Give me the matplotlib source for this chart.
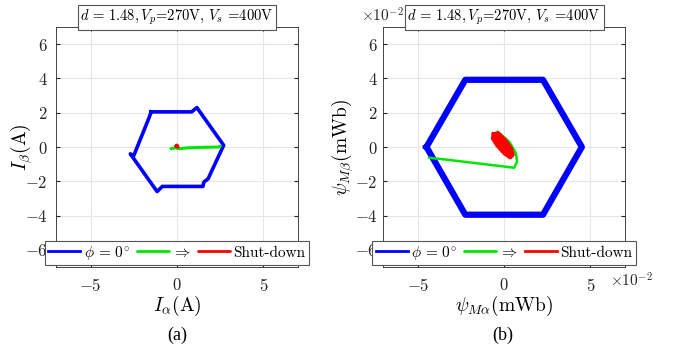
import matplotlib
matplotlib.use("Agg")
import matplotlib.pyplot as plt
import numpy as np

plt.rcParams['font.family'] = ['cmr10']
plt.rcParams['mathtext.fontset'] = 'cm'
plt.rcParams['axes.unicode_minus'] = False
plt.rcParams['axes.formatter.use_mathtext'] = True

# ---- (a) current trajectories (A) ----
cur_blue_x = [-1.5, 0.85, 1.15, 2.7, 1.8, 1.55, 1.5, -0.85, -1.15, -2.7, -2.5, -1.6, -1.5]
cur_blue_y = [2.05, 2.05, 2.3, 0.1, -1.85, -2.05, -2.3, -2.3, -2.6, -0.4, -0.5, 1.75, 2.05]
cur_green_x = [-0.35, -0.1, 0.15, 0.6, 1.5, 2.4, 2.5]
cur_green_y = [-0.1, -0.05, -0.1, -0.05, -0.02, 0.0, 0.05]
cur_red_x = [-0.05, 0.05, 0.0, -0.05]
cur_red_y = [0.05, 0.0, 0.1, 0.05]

# ---- (b) flux trajectories (x1e-2 mWb) ----
flux_blue_x = [-4.5, -2.25, 2.25, 4.5, 2.25, -2.25, -4.5]
flux_blue_y = [0.0, 3.92, 3.92, 0.0, -3.95, -3.95, 0.0]
flux_green_x = [-4.35, -3.4, 0.58, 0.75, 0.68, 0.3, -0.38]
flux_green_y = [-0.63, -0.73, -1.21, -0.85, -0.35, 0.3, 0.9]
flux_red_x = [-0.6, -0.35, 0.05, 0.4, 0.5, 0.35, 0.0, -0.4, -0.65, -0.6]
flux_red_y = [0.75, 0.8, 0.4, -0.1, -0.45, -0.6, -0.35, 0.1, 0.5, 0.75]

yticks = [-6, -4, -2, 0, 2, 4, 6]
xticks = [-5, 0, 5]
labels = [r'$\phi\,=\,0^{\circ}$', r'$\Rightarrow$', 'Shut-down']
title = r'$d\,=\,1.48, V_p$=270V, $V_s$ =400V'

fig = plt.figure(figsize=(6.77, 3.45), dpi=100)
axA = fig.add_axes([56/677, 1-267/345, 242/677, 240/345])
axB = fig.add_axes([383.3/677, 1-267/345, 241.7/677, 240/345])

def style(ax, scale, ypad):
    ax.set_xlim(-7*scale, 7*scale)
    ax.set_ylim(-7*scale, 7*scale)
    ax.set_xticks([t*scale for t in xticks])
    ax.set_yticks([t*scale for t in yticks])
    ax.grid(True, color='#e6e6e6', lw=0.8)
    ax.set_axisbelow(True)
    ax.tick_params(direction='in', length=3, labelsize=12, colors='#262626',
                   top=True, right=True)
    ax.tick_params(axis='x', pad=7)
    ax.tick_params(axis='y', pad=ypad)
    for s in ax.spines.values():
        s.set_color('#262626')
        s.set_linewidth(0.6)

style(axA, 1, 6)
axA.plot(cur_blue_x, cur_blue_y, color='#0000ff', lw=2.6, label=labels[0], solid_joinstyle='round')
axA.plot(cur_green_x, cur_green_y, color='#00e600', lw=2.2, label=labels[1], solid_capstyle='round')
axA.plot(cur_red_x, cur_red_y, color='#ff0000', lw=2.5, label=labels[2], solid_capstyle='round')
axA.set_xlabel(r'$I_{\alpha}$(A)', fontsize=14, labelpad=0)
axA.set_ylabel(r'$I_{\beta}$(A)', fontsize=14)
axA.yaxis.set_label_coords(-0.085, 0.5)

sc = 1e-2
style(axB, sc, 4)
axB.plot(np.array(flux_blue_x)*sc, np.array(flux_blue_y)*sc, color='#0000ff', lw=4.5,
         label=labels[0], solid_joinstyle='round')
axB.plot(np.array(flux_green_x)*sc, np.array(flux_green_y)*sc, color='#00e600', lw=1.8,
         label=labels[1], solid_capstyle='round')
axB.plot(np.array(flux_red_x)*sc, np.array(flux_red_y)*sc, color='#ff0000', lw=3,
         label=labels[2], solid_joinstyle='round')
axB.fill(np.array(flux_red_x)*sc, np.array(flux_red_y)*sc, color='#ff0000', lw=0)
axB.ticklabel_format(style='sci', scilimits=(-2, -2), useMathText=True)
axB.xaxis.get_offset_text().set_visible(False)
axB.yaxis.get_offset_text().set_visible(False)
axB.set_xlabel(r'$\psi_{M\alpha}$(mWb)', fontsize=14, labelpad=0)
axB.set_ylabel(r'$\psi_{M\beta}$(mWb)', fontsize=14)
axB.yaxis.set_label_coords(-0.112, 0.5)

fig.text(361/677, 1-16/345, r'$\times10^{-2}$', ha='left', va='center', fontsize=11, color='#262626')
fig.text(610/677, 1-281/345, r'$\times10^{-2}$', ha='left', va='center', fontsize=11, color='#262626')

for ax in (axA, axB):
    leg = ax.legend(loc='lower center', bbox_to_anchor=(0.5, 0.0), ncol=3, fontsize=11,
                    handlelength=2.1, handletextpad=0.22, columnspacing=0.45,
                    borderpad=0.2, borderaxespad=0.15, fancybox=False, framealpha=1,
                    edgecolor='#555555')
    leg.get_frame().set_linewidth(0.8)
    for ln in leg.get_lines():
        ln.set_linewidth(2.0)
    ax.text(0.5, 1.0, title, transform=ax.transAxes, ha='center', va='bottom', fontsize=10.5,
            bbox=dict(facecolor='white', edgecolor='#555555', lw=0.8, pad=2.0))

fig.text(177/677, 1-335/345, '(a)', ha='center', va='center', fontsize=13, family='Liberation Serif')
fig.text(503/677, 1-335/345, '(b)', ha='center', va='center', fontsize=13, family='Liberation Serif')

fig.savefig('out.png', dpi=100)
